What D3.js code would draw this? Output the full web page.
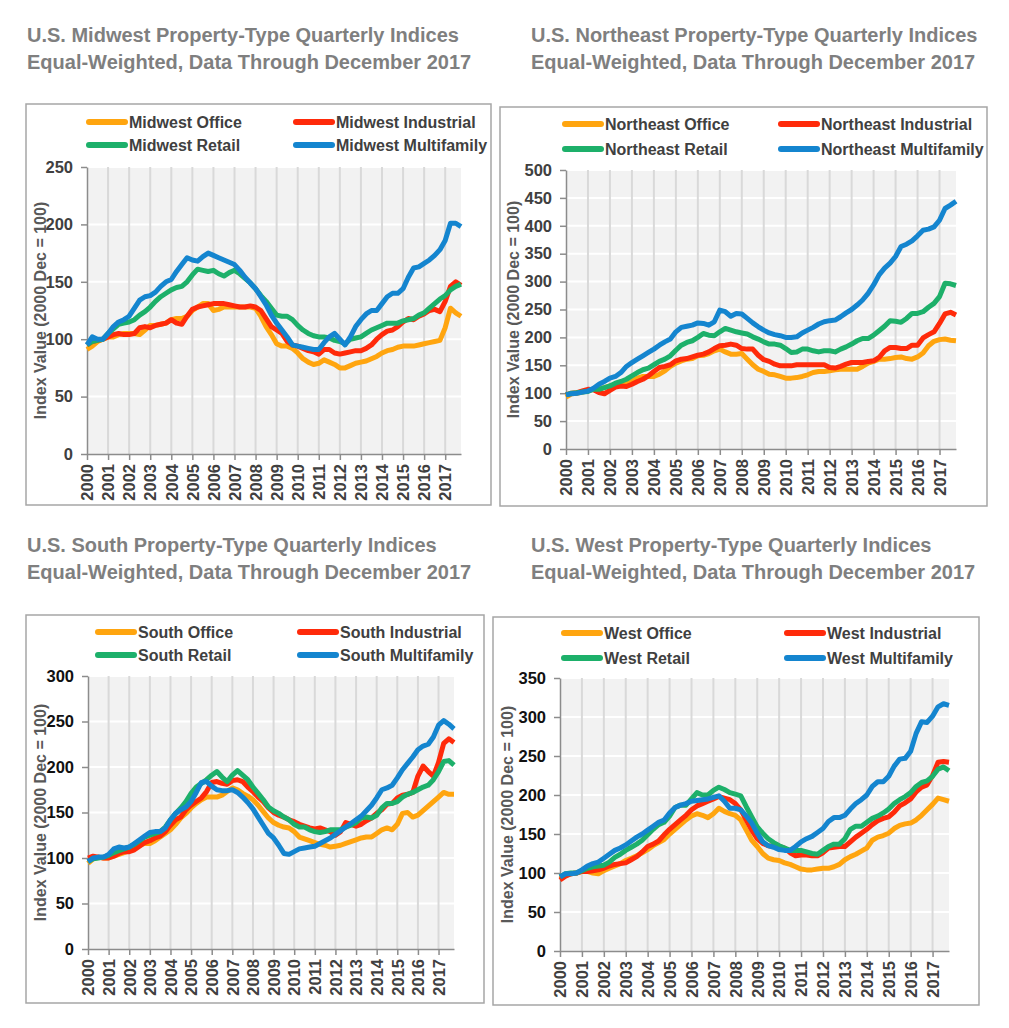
<!DOCTYPE html>
<html>
<head>
<meta charset="UTF-8">
<style>
  body { margin: 0; background: #fff; font-family: "Liberation Sans", Arial, Helvetica, sans-serif; }
  svg { display: block; }
</style>
</head>
<body>
<svg id="chart"></svg>
<script src="https://cdn.jsdelivr.net/npm/d3@7"></script>
<script>
var years = [2000, 2001, 2002, 2003, 2004, 2005, 2006, 2007, 2008, 2009,
             2010, 2011, 2012, 2013, 2014, 2015, 2016, 2017];
var quarters = years.flatMap(function (y) { return ["Q1", "Q2", "Q3", "Q4"].map(function (q) { return y + q; }); });
var propertyTypes = ["Office", "Industrial", "Retail", "Multifamily"];

// Midwest
var midwestOffice = [91,94,98,100, 102,102,104,105, 105,105,104,108, 112,112,113,114, 117,118,118,120,
  125,128,131,131, 125,126,128,128, 128,128,128,128, 127,120,111,104, 96,94,94,92,
  88,83,80,78, 79,82,80,78, 75,75,77,79, 80,81,83,85, 88,90,91,93, 94,94,94,95,
  96,97,98,99, 110,127,123,120];
var midwestIndustrial = [95,98,99,100, 102,104,105,104, 104,105,110,111, 110,112,113,114, 117,114,113,120,
  126,128,129,130, 131,131,131,130, 129,128,128,129, 128,125,118,111, 108,105,98,95,
  94,92,90,89, 87,91,91,88, 87,88,89,90, 90,92,95,100, 104,107,108,111, 115,118,117,120,
  122,125,126,124, 133,146,150,147];
var midwestRetail = [95,98,99,100, 105,109,113,114, 115,117,121,124, 128,133,137,140, 143,145,146,150,
  156,161,160,159, 160,157,155,158, 160,157,153,149, 144,138,133,127, 121,120,120,117,
  112,108,105,103, 102,102,101,99, 98,96,100,101, 102,105,108,110, 112,114,114,114, 116,117,118,121,
  123,127,131,135, 138,143,146,148];
var midwestMultifamily = [95,102,100,100, 105,111,115,117, 120,127,134,137, 138,141,146,150, 152,159,165,171,
  169,168,172,175, 173,171,169,167, 165,160,154,149, 144,137,130,121, 114,108,102,95,
  94,93,92,91, 91,97,102,105, 100,95,102,111, 117,122,125,125, 131,137,140,140, 144,154,162,163,
  166,169,173,178, 186,201,201,198];

// Northeast
var northeastOffice = [93,99,100,102, 105,107,108,110, 113,115,118,119, 121,127,130,130, 130,134,140,148,
  154,158,161,162, 167,168,171,176, 179,174,170,170, 171,161,151,143, 139,134,133,130,
  127,127,128,130, 133,137,139,139, 140,142,143,143, 143,143,148,154, 157,161,161,162, 164,165,162,161,
  165,172,185,193, 196,197,195,194];
var northeastIndustrial = [97,100,101,104, 107,106,101,99, 105,111,113,112, 116,121,125,131, 139,146,148,151,
  158,161,162,165, 168,170,174,180, 185,186,188,186, 180,179,179,168, 160,157,152,149,
  149,149,151,151, 151,151,151,151, 146,145,148,152, 155,155,155,157, 158,164,176,182, 182,180,180,186,
  186,199,205,210, 225,242,245,240];
var northeastRetail = [97,100,101,102, 103,107,107,110, 113,118,121,125, 131,137,142,145, 151,157,161,167,
  177,186,191,194, 200,207,204,203, 210,216,213,210, 208,206,201,197, 192,188,188,186,
  180,173,174,179, 179,176,174,176, 176,174,179,183, 188,194,198,198, 204,212,220,230, 229,227,234,243,
  243,246,254,261, 273,297,296,293];
var northeastMultifamily = [97,99,100,102, 104,109,116,121, 127,130,137,148, 155,161,167,173, 179,186,192,197,
  210,218,220,222, 226,225,222,228, 249,246,238,243, 242,234,226,219, 213,208,205,203,
  200,200,201,208, 213,218,224,228, 230,231,237,244, 250,258,267,279, 294,312,324,333, 345,363,367,373,
  382,392,394,398, 410,431,437,444];

// South
var southOffice = [94,99,101,100, 100,102,104,106, 108,111,114,116, 116,119,123,127, 131,137,144,149,
  155,160,164,167, 167,167,169,173, 177,175,171,168, 164,158,151,144, 139,136,134,133,
  129,123,121,119, 117,115,114,112, 113,114,116,118, 120,122,123,123, 127,131,133,131, 137,149,150,145,
  147,152,157,162, 167,172,170,170];
var southIndustrial = [100,102,101,100, 100,102,105,107, 107,109,113,117, 119,122,124,129, 136,142,145,153,
  158,162,166,173, 183,184,182,181, 185,186,184,178, 173,167,162,155, 150,147,145,142,
  140,137,135,133, 132,133,131,129, 125,129,139,137, 135,137,141,144, 149,153,159,160, 166,169,170,172,
  190,201,195,190, 205,226,231,227];
var southRetail = [96,99,100,101, 103,106,108,110, 112,115,119,123, 125,127,129,134, 142,149,155,162,
  171,178,182,186, 191,195,189,184, 191,196,191,186, 178,171,164,156, 152,149,145,142,
  137,134,134,131, 129,128,129,131, 131,131,134,136, 139,144,145,144, 147,155,160,160, 162,167,170,172,
  175,178,180,186, 195,206,207,202];
var southMultifamily = [96,100,101,101, 104,110,112,111, 112,116,120,124, 128,129,129,133, 142,149,153,156,
  162,172,183,184, 179,175,174,174, 175,172,167,161, 154,145,136,127, 122,114,105,104,
  107,110,111,112, 113,116,119,122, 126,130,134,138, 142,146,152,158, 166,175,177,180, 188,197,204,211,
  219,223,225,233, 246,251,247,242];

// West
var westOffice = [93,97,99,100, 102,102,100,99, 103,106,109,112, 116,119,122,126, 130,135,139,143,
  150,156,162,168, 173,176,174,171, 176,183,179,176, 174,168,155,142, 134,125,119,117,
  116,113,111,108, 105,104,104,105, 106,106,108,111, 117,121,124,128, 132,142,146,148, 151,157,161,163,
  164,168,174,181, 188,196,194,192];
var westIndustrial = [91,96,99,100, 102,102,103,104, 106,109,111,112, 113,117,121,127, 134,137,141,149,
  156,162,168,174, 181,186,189,192, 195,198,196,194, 189,181,168,155, 144,138,135,134,
  134,132,126,122, 123,123,122,122, 126,132,133,134, 134,140,146,151, 156,162,167,170, 172,178,186,190,
  195,204,210,213, 225,242,243,242];
var westRetail = [95,99,100,100, 103,106,108,109, 110,114,120,124, 129,133,137,142, 149,156,162,165,
  173,184,187,187, 195,203,200,200, 206,210,207,203, 201,199,185,172, 159,151,144,139,
  135,132,129,129, 129,127,125,124, 129,134,137,137, 144,156,160,160, 165,170,173,177, 182,189,194,198,
  203,211,216,218, 224,233,236,231];
var westMultifamily = [95,99,99,100, 104,109,112,114, 119,124,129,132, 136,141,146,150, 155,160,165,168,
  177,184,187,189, 192,193,194,195, 197,199,192,183, 183,181,173,164, 151,140,135,133,
  130,129,129,134, 140,144,147,152, 157,166,171,171, 174,182,189,194, 200,211,217,217, 224,237,246,247,
  256,279,294,293, 301,313,317,315];

var seriesColors = ["#FFA50F", "#FF2A0A", "#1DB06A", "#1485CF"];

var panels = [
  { region: "Midwest", series: [midwestOffice, midwestIndustrial, midwestRetail, midwestMultifamily],
    yMax: 250, titleX: 27, titleY: 42,
    box: [26, 104, 491, 505], plot: [87, 167, 461, 454], yTitleX: 40,
    legX: [86, 293], legY: [122, 145], tickColor: "#404040" },
  { region: "Northeast", series: [northeastOffice, northeastIndustrial, northeastRetail, northeastMultifamily],
    yMax: 500, titleX: 531, titleY: 42,
    box: [500, 107, 987, 506], plot: [566, 170, 956, 449], yTitleX: 513,
    legX: [562, 778], legY: [124, 149], tickColor: "#404040" },
  { region: "South", series: [southOffice, southIndustrial, southRetail, southMultifamily],
    yMax: 300, titleX: 27, titleY: 552,
    box: [26, 615, 484, 1003], plot: [88, 676, 454, 949], yTitleX: 40,
    legX: [95, 297], legY: [632, 655], tickColor: "#111" },
  { region: "West", series: [westOffice, westIndustrial, westRetail, westMultifamily],
    yMax: 350, titleX: 531, titleY: 552,
    box: [493, 617, 979, 1005], plot: [560, 678, 949, 951], yTitleX: 507,
    legX: [561, 784], legY: [633, 658], tickColor: "#111" }
];

var width = 1009, height = 1028;
var svg = d3.select("#chart").attr("width", width).attr("height", height);
svg.append("rect").attr("width", width).attr("height", height).attr("fill", "#fff");

panels.forEach(function (p) {
  var g = svg.append("g");

  // title
  var title = g.append("text")
    .attr("x", p.titleX).attr("y", p.titleY)
    .attr("fill", "#7f7f7f").attr("font-size", 20).attr("font-weight", "bold");
  title.append("tspan").attr("x", p.titleX).text("U.S. " + p.region + " Property-Type Quarterly Indices");
  title.append("tspan").attr("x", p.titleX).attr("dy", 27).text("Equal-Weighted, Data Through December 2017");

  // frame
  g.append("rect")
    .attr("x", p.box[0]).attr("y", p.box[1])
    .attr("width", p.box[2] - p.box[0]).attr("height", p.box[3] - p.box[1])
    .attr("fill", "#fff").attr("stroke", "#a6a6a6").attr("stroke-width", 1.5);

  var x = d3.scalePoint().domain(quarters).range([p.plot[0], p.plot[2]]);
  var y = d3.scaleLinear().domain([0, p.yMax]).range([p.plot[3], p.plot[1]]);
  var yTicks = d3.range(0, p.yMax + 1, 50);

  // plot area
  g.append("rect")
    .attr("x", p.plot[0]).attr("y", p.plot[1])
    .attr("width", p.plot[2] - p.plot[0]).attr("height", p.plot[3] - p.plot[1])
    .attr("fill", "#f2f2f2");

  g.selectAll(".hgrid").data(yTicks.slice(1)).enter().append("line")
    .attr("x1", p.plot[0]).attr("x2", p.plot[2])
    .attr("y1", function (d) { return y(d); }).attr("y2", function (d) { return y(d); })
    .attr("stroke", "#fff").attr("stroke-width", 2);

  g.selectAll(".vgrid").data(years.slice(1)).enter().append("line")
    .attr("x1", function (d) { return x(d + "Q1"); }).attr("x2", function (d) { return x(d + "Q1"); })
    .attr("y1", p.plot[1]).attr("y2", p.plot[3])
    .attr("stroke", "#d9d9d9").attr("stroke-width", 2);

  // axes
  var xAxis = d3.axisBottom(x)
    .tickValues(years.map(function (d) { return d + "Q1"; }))
    .tickFormat(function (d) { return d.slice(0, 4); })
    .tickSize(6).tickSizeOuter(0);
  var gx = g.append("g").attr("transform", "translate(0," + p.plot[3] + ")").call(xAxis);
  gx.select(".domain").attr("stroke", "#8c8c8c").attr("stroke-width", 1.5);
  gx.selectAll(".tick line").attr("stroke", "#8c8c8c").attr("stroke-width", 1.5);
  gx.selectAll(".tick text")
    .attr("transform", "rotate(-90)")
    .attr("x", -10).attr("y", 0).attr("dy", "0.35em")
    .attr("text-anchor", "end")
    .attr("fill", "#404040").attr("font-size", 16.5).attr("font-weight", "bold")
    .attr("font-family", "\"Liberation Sans\", Arial, sans-serif");

  var yAxis = d3.axisLeft(y).tickValues(yTicks).tickSize(6).tickSizeOuter(0);
  var gy = g.append("g").attr("transform", "translate(" + p.plot[0] + ",0)").call(yAxis);
  gy.select(".domain").attr("stroke", "#8c8c8c").attr("stroke-width", 1.5);
  gy.selectAll(".tick line").attr("stroke", "#8c8c8c").attr("stroke-width", 1.5);
  gy.selectAll(".tick text")
    .attr("x", -14)
    .attr("fill", p.tickColor).attr("font-size", 16.5).attr("font-weight", "bold")
    .attr("font-family", "\"Liberation Sans\", Arial, sans-serif");

  g.append("text")
    .attr("transform", "translate(" + p.yTitleX + "," + ((p.plot[1] + p.plot[3]) / 2) + ") rotate(-90)")
    .attr("text-anchor", "middle").attr("dy", "0.35em")
    .attr("fill", "#595959").attr("font-size", 16).attr("font-weight", "bold")
    .text("Index Value (2000 Dec = 100)");

  // lines
  var line = d3.line()
    .x(function (d, i) { return x(quarters[i]); })
    .y(function (d) { return y(d); });

  p.series.forEach(function (s, i) {
    g.append("path").datum(s)
      .attr("d", line)
      .attr("fill", "none")
      .attr("stroke", seriesColors[i])
      .attr("stroke-width", 5)
      .attr("stroke-linejoin", "round");
  });

  // legend
  propertyTypes.forEach(function (t, i) {
    var lx = p.legX[i % 2], ly = p.legY[Math.floor(i / 2)];
    g.append("line")
      .attr("x1", lx + 3).attr("x2", lx + 39).attr("y1", ly).attr("y2", ly)
      .attr("stroke", seriesColors[i]).attr("stroke-width", 6).attr("stroke-linecap", "round");
    g.append("text")
      .attr("x", lx + 43).attr("y", ly).attr("dy", "0.35em")
      .attr("fill", "#404040").attr("font-size", 16).attr("font-weight", "bold")
      .text(p.region + " " + t);
  });
});
</script>
</body>
</html>
